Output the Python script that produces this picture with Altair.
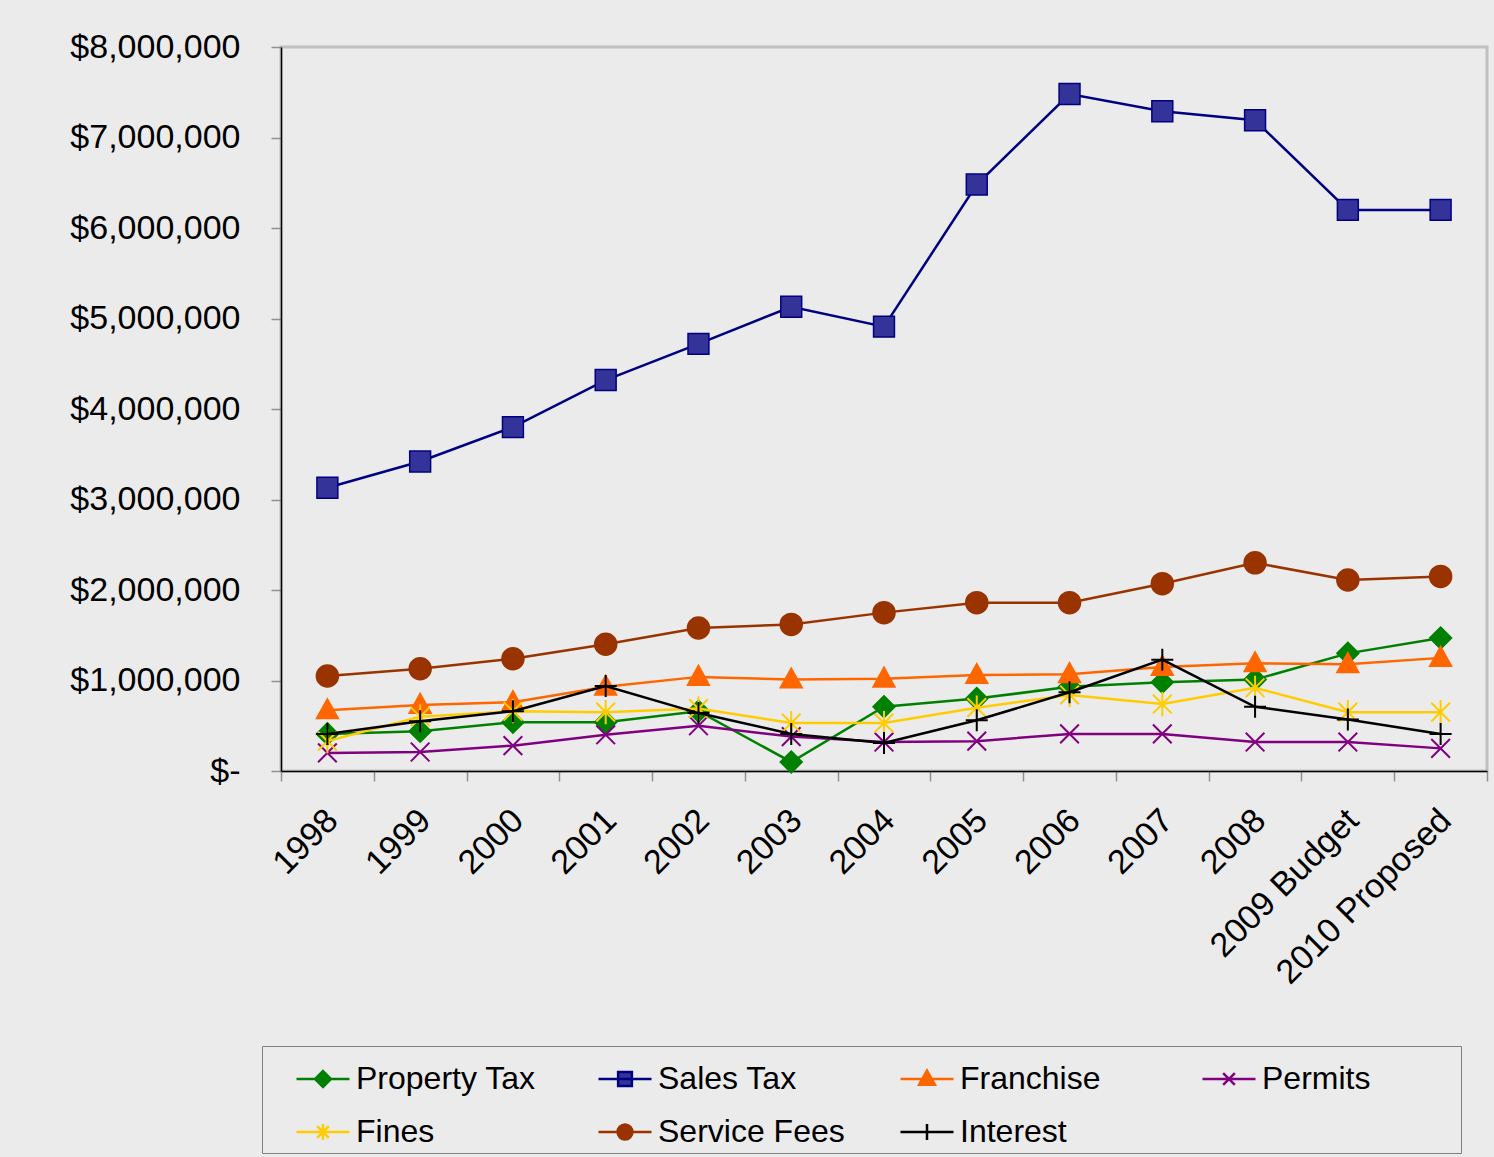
import altair as alt
import pandas as pd

years = ["1998", "1999", "2000", "2001", "2002", "2003", "2004", "2005",
         "2006", "2007", "2008", "2009 Budget", "2010 Proposed"]
series_names = ["Property Tax", "Sales Tax", "Franchise", "Permits",
                "Fines", "Service Fees", "Interest"]

property_tax = [410000, 440000, 540000, 540000, 660000, 100000, 710000,
                800000, 930000, 980000, 1010000, 1300000, 1470000]
sales_tax = [3130000, 3420000, 3800000, 4320000, 4720000, 5130000, 4910000,
             6480000, 7480000, 7290000, 7190000, 6200000, 6200000]
franchise = [670000, 730000, 760000, 930000, 1040000, 1010000, 1020000,
             1060000, 1070000, 1150000, 1190000, 1180000, 1250000]
permits = [200000, 210000, 280000, 400000, 500000, 380000, 320000,
           330000, 410000, 410000, 320000, 320000, 250000]
fines = [330000, 600000, 660000, 650000, 690000, 530000, 530000,
         700000, 840000, 740000, 920000, 650000, 650000]
service_fees = [1050000, 1130000, 1240000, 1400000, 1580000, 1620000, 1750000,
                1860000, 1860000, 2070000, 2300000, 2110000, 2150000]
interest = [410000, 550000, 660000, 940000, 640000, 410000, 310000,
            560000, 870000, 1230000, 710000, 570000, 410000]

y_ticks = [0, 1000000, 2000000, 3000000, 4000000, 5000000, 6000000, 7000000, 8000000]

series_values = [property_tax, sales_tax, franchise, permits, fines, service_fees, interest]

line_colors = ["#008000", "#000080", "#FF6600", "#800080", "#FFCC00", "#993300", "#000000"]
fill_colors = ["#008000", "#333399", "#FF6600", "transparent", "transparent", "#993300", "transparent"]

marker_paths = [
    "M0,-1L1,0L0,1L-1,0Z",
    "M-0.95,-0.95H0.95V0.95H-0.95Z",
    "M0,-1.05L1,0.75H-1Z",
    "M-0.85,-0.85L0.85,0.85M-0.85,0.85L0.85,-0.85",
    "M-0.85,-0.85L0.85,0.85M-0.85,0.85L0.85,-0.85M0,-1.1V1.1",
    "M1,0A1,1 0 1,1 -1,0A1,1 0 1,1 1,0Z",
    "M-1,0H1M0,-1V1",
]
legend_paths = [
    "M-1,0H1M0,-0.3L0.3,0L0,0.3L-0.3,0Z",
    "M-1,0H1M-0.26,-0.26H0.26V0.26H-0.26Z",
    "M-1,0H1M0,-0.32L0.3,0.22H-0.3Z",
    "M-1,0H1M-0.22,-0.22L0.22,0.22M-0.22,0.22L0.22,-0.22",
    "M-1,0H1M-0.22,-0.22L0.22,0.22M-0.22,0.22L0.22,-0.22M0,-0.3V0.3",
    "M-1,0H1M0.28,0A0.28,0.28 0 1,1 -0.28,0A0.28,0.28 0 1,1 0.28,0Z",
    "M-1,0H1M-0.3,0H0.3M0,-0.3V0.3",
]

rows = []
for name, vals in zip(series_names, series_values):
    for yr, v in zip(years, vals):
        rows.append({"year": yr, "series": name, "value": v})
df = pd.DataFrame(rows)

FONT = "Liberation Sans"
BG = "#ebebeb"

x_enc = alt.X(
    "year:N",
    scale=alt.Scale(type="band", domain=years, paddingInner=0, paddingOuter=0),
    bandPosition=0.5,
    axis=alt.Axis(
        title=None, labelAngle=315, labelAlign="right", labelBaseline="middle",
        labelPadding=34, labelOffset=5, tickBand="extent", tickSize=10,
        labelFontSize=34, labelOverlap=False, labelBound=False, labelLimit=0,
    ),
)
y_enc = alt.Y(
    "value:Q",
    scale=alt.Scale(domain=[0, 8000000], nice=False),
    axis=alt.Axis(
        title=None, values=y_ticks, grid=False, tickSize=10, labelPadding=31,
        labelFontSize=34, labelLimit=0,
        labelExpr="datum.value == 0 ? '$-' : '$' + format(datum.value, ',')",
    ),
)

layers = []
for name, path, fc, lc in zip(series_names, marker_paths, fill_colors, line_colors):
    base = alt.Chart(df).transform_filter(alt.datum.series == name)
    layers.append(base.mark_line(stroke=lc, strokeWidth=2.5).encode(x=x_enc, y=y_enc))
    layers.append(
        base.mark_point(shape=path, size=484, fill=fc, stroke=lc,
                        strokeWidth=2 if fc == "transparent" else 1.5, opacity=1)
        .encode(x=x_enc, y=y_enc)
    )

leg = alt.Legend(
    title="\u00a0", titleOrient="right", titlePadding=86, titleFontSize=32,
    orient="none", legendX=-19, legendY=999, columns=4, direction="horizontal",
    gridAlign="all", columnPadding=26, rowPadding=9, padding=5,
    symbolOffset=28, labelOffset=5, labelFontSize=32, labelFont=FONT, labelLimit=0,
    symbolSize=2809, symbolStrokeWidth=2.5, symbolOpacity=1,
    strokeColor="#808080", fillColor=BG,
)
legend_layer = (
    alt.Chart(df)
    .transform_filter("false")
    .mark_point(opacity=1, strokeWidth=2.5)
    .encode(
        x=x_enc, y=y_enc,
        shape=alt.Shape("series:N", scale=alt.Scale(domain=series_names, range=legend_paths), legend=leg),
        fill=alt.Fill("series:N", scale=alt.Scale(domain=series_names, range=fill_colors), legend=leg),
        stroke=alt.Stroke("series:N", scale=alt.Scale(domain=series_names, range=line_colors), legend=leg),
    )
)
layers.append(legend_layer)

chart = (
    alt.layer(*layers)
    .properties(
        width=1206, height=724,
        autosize=alt.AutoSizeParams(type="none"),
        padding={"left": 281, "top": 47, "right": 7, "bottom": 386},
        background=BG,
    )
    .configure_view(stroke="#c0c0c0", strokeWidth=3)
    .configure_axis(
        labelFont=FONT, labelColor="#000000", domainColor="#000000",
        domainWidth=1.5, tickColor="#909090", tickWidth=1.5,
    )
)

chart.save("out.html", embed_options={"renderer": "svg", "actions": False})
